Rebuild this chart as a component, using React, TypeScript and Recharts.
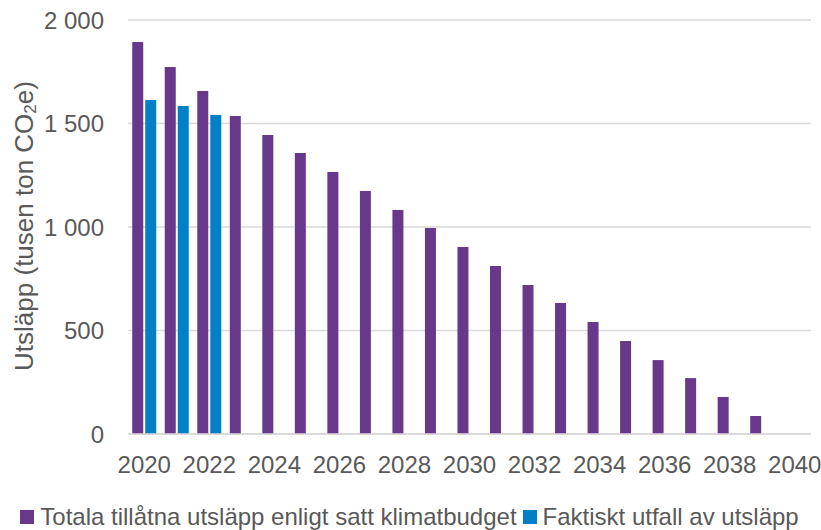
import { Bar, BarChart, CartesianGrid, Legend, XAxis, YAxis } from "recharts";

// Årtal på x-axeln
const years = [
  "2020", "2021", "2022", "2023", "2024", "2025", "2026", "2027", "2028", "2029", "2030",
  "2031", "2032", "2033", "2034", "2035", "2036", "2037", "2038", "2039", "2040",
];

// Totala tillåtna utsläpp enligt satt klimatbudget (tusen ton CO2e)
const budget = [
  1894, 1773, 1657, 1536, 1444, 1357, 1266, 1174, 1082, 995, 903,
  812, 720, 633, 541, 449, 357, 270, 179, 87, 0,
];

// Faktiskt utfall av utsläpp
const actual: (number | null)[] = [1614, 1585, 1541];

const yTicks = [0, 500, 1000, 1500, 2000];

const PURPLE = "#68388A";
const BLUE = "#0080C6";
const TEXT = "#595959";
const GRID = "#d9d9d9";
const FONT = "Arial, 'Liberation Sans', sans-serif";

const data = years.map((year, i) => ({
  year,
  budget: budget[i],
  actual: actual[i] ?? null,
}));

const legendItems = [
  { label: "Totala tillåtna utsläpp enligt satt klimatbudget", color: PURPLE },
  { label: "Faktiskt utfall av utsläpp", color: BLUE },
];

const formatTick = (v: number) => String(v).replace(/\B(?=(\d{3})+(?!\d))/g, "\u00a0");

const YLabel = () => (
  <text
    x={24}
    y={226}
    transform="rotate(-90, 24, 226)"
    textAnchor="middle"
    dominantBaseline="central"
    fontSize={26}
    fill={TEXT}
    fontFamily={FONT}
  >
    Utsläpp (tusen ton CO
    <tspan dy={6} fontSize={17}>2</tspan>
    <tspan dy={-6}>e)</tspan>
  </text>
);

const CustomLegend = () => (
  <div
    style={{
      display: "flex",
      justifyContent: "center",
      alignItems: "center",
      height: 36,
      paddingTop: 10,
      paddingLeft: 8,
      boxSizing: "border-box",
      fontFamily: FONT,
      fontSize: 24,
      color: TEXT,
      whiteSpace: "nowrap",
    }}
  >
    {legendItems.map((item, i) => (
      <div key={item.label} style={{ display: "flex", alignItems: "center", marginLeft: i > 0 ? 6 : 0 }}>
        <span style={{ width: 14, height: 14, background: item.color, marginRight: 6, display: "inline-block" }} />
        <span>{item.label}</span>
      </div>
    ))}
  </div>
);

export default function App() {
  return (
    <div style={{ width: 821, height: 530, background: "#fff" }}>
      <style>{`body{margin:0}`}</style>
      <BarChart
        width={821}
        height={530}
        data={data}
        margin={{ top: 20, right: 10, left: 0, bottom: 0 }}
        barCategoryGap="13%"
        barGap={2}
      >
        <CartesianGrid vertical={false} stroke={GRID} strokeWidth={1.5} />
        <XAxis
          dataKey="year"
          interval={1}
          height={60}
          axisLine={{ stroke: GRID, strokeWidth: 1.5 }}
          tickLine={false}
          tickMargin={16}
          tick={{ fontSize: 24, fill: TEXT, fontFamily: FONT }}
        />
        <YAxis
          width={128}
          domain={[0, 2000]}
          ticks={yTicks}
          tickFormatter={formatTick}
          axisLine={false}
          tickLine={false}
          tickMargin={18}
          tick={{ fontSize: 24, fill: TEXT, fontFamily: FONT }}
          label={<YLabel />}
        />
        <Legend verticalAlign="bottom" wrapperStyle={{ height: 36 }} content={<CustomLegend />} />
        <Bar dataKey="budget" fill={PURPLE} isAnimationActive={false} />
        <Bar dataKey="actual" fill={BLUE} isAnimationActive={false} />
      </BarChart>
    </div>
  );
}
